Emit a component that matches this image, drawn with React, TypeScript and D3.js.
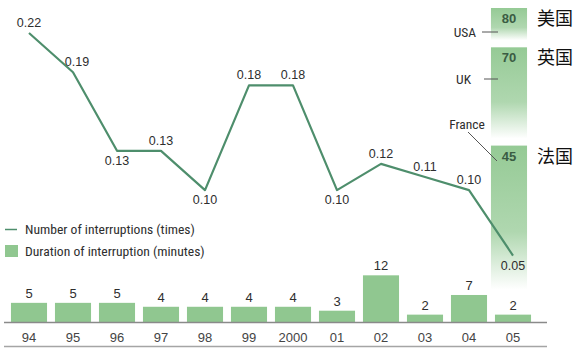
import React from "react";
import * as d3 from "d3";

const years = ["94", "95", "96", "97", "98", "99", "2000", "01", "02", "03", "04", "05"];
const interruptions = [0.22, 0.19, 0.13, 0.13, 0.1, 0.18, 0.18, 0.1, 0.12, 0.11, 0.1, 0.05];
const durations = [5, 5, 5, 4, 4, 4, 4, 3, 12, 2, 7, 2];
const countries = ["USA", "UK", "France"];
const countryNames = ["美国", "英国", "法国"];
const countryMinutes = [80, 70, 45];
const legendLabels = ["Number of interruptions (times)", "Duration of interruption (minutes)"];

const W = 580;
const H = 352;
const narrow = "'Roboto Condensed', 'DejaVu Sans Condensed', sans-serif";
const sans = "'Liberation Sans', Arial, sans-serif";
const lineColor = "#4e8e6c";
const barColor = "#90c790";
const compColor = "#95ca95";
const textColor = "#2e2e2e";

const App = () => {
  const x = d3.scaleBand<string>().domain(years).range([7, 535]).paddingInner(0.18).paddingOuter(0.09);
  const cx = (y: string) => (x(y) as number) + x.bandwidth() / 2;
  const yMin = d3.scaleLinear().domain([0, 80]).range([322.5, 8]);
  const yRate = d3.scaleLinear().domain([0, 0.22]).range([321, 33]);

  const line = d3
    .line<number>()
    .x((_, i) => cx(years[i]))
    .y((d) => yRate(d));

  // comparison bars sit over the last column
  const compX = (x("05") as number) - 4;
  const compW = x.bandwidth();
  const fadeEnds = countryMinutes.map((m, i) =>
    i < countryMinutes.length - 1 ? yMin(countryMinutes[i + 1]) - 7 : yMin(0) - 33
  );

  const labelBelow = (i: number) => {
    const v = interruptions[i];
    const prev = i > 0 ? interruptions[i - 1] : Infinity;
    const next = i < interruptions.length - 1 ? interruptions[i + 1] : Infinity;
    return v <= prev && v <= next && i > 0;
  };

  return (
    <svg width={W} height={H} style={{ position: "absolute", left: 0, top: 0, background: "#fff" }}>
      <defs>
        {countries.map((c, i) => (
          <linearGradient key={c} id={`fade${i}`} x1="0" y1="0" x2="0" y2="1">
            <stop offset="0" stopColor={compColor} stopOpacity={1} />
            <stop offset="0.6" stopColor={compColor} stopOpacity={0.75} />
            <stop offset="1" stopColor={compColor} stopOpacity={0} />
          </linearGradient>
        ))}
      </defs>

      {/* international comparison */}
      {countries.map((c, i) => {
        const top = yMin(countryMinutes[i]);
        return (
          <g key={c}>
            <rect x={compX} y={top} width={compW} height={fadeEnds[i] - top} fill={`url(#fade${i})`} />
            <text x={compX + compW / 2} y={top + 15} textAnchor="middle" fontFamily={sans} fontWeight="bold" fontSize={13} fill="#3a5c43">
              {countryMinutes[i]}
            </text>
            <text x={compX + compW + 10} y={top + 17} fontFamily="'Noto Sans CJK SC', sans-serif" fontSize={18} fill="#111">
              {countryNames[i]}
            </text>
          </g>
        );
      })}
      <text x={476} y={37} textAnchor="end" fontFamily={narrow} fontSize={13.5} fill={textColor}>{countries[0]}</text>
      <line x1={482} x2={498} y1={32} y2={32} stroke="#555" />
      <text x={471} y={84} textAnchor="end" fontFamily={narrow} fontSize={13.5} fill={textColor}>{countries[1]}</text>
      <line x1={484} x2={498} y1={79} y2={79} stroke="#555" />
      <text x={467} y={129} textAnchor="middle" fontFamily={narrow} fontSize={13.5} fill={textColor}>{countries[2]}</text>
      <line x1={468} x2={497} y1={132} y2={161} stroke="#555" />

      {/* duration bars */}
      {durations.map((d, i) => (
        <g key={years[i]}>
          <rect x={x(years[i])} y={yMin(d)} width={x.bandwidth()} height={yMin(0) - yMin(d)} fill={barColor} />
          <text x={cx(years[i])} y={yMin(d) - 5} textAnchor="middle" fontFamily={sans} fontSize={13} fill={textColor}>
            {d}
          </text>
          <text x={cx(years[i])} y={342} textAnchor="middle" fontFamily={sans} fontSize={13} fill="#444">
            {years[i]}
          </text>
        </g>
      ))}
      <line x1={4} x2={547} y1={yMin(0)} y2={yMin(0)} stroke="#8a8a8a" strokeWidth={1.5} />
      <line x1={4} x2={547} y1={346.5} y2={346.5} stroke="#a5a5a5" strokeWidth={1.5} />

      {/* interruptions line */}
      <path d={line(interruptions) as string} fill="none" stroke={lineColor} strokeWidth={2.2} strokeLinejoin="round" />
      {interruptions.map((v, i) => (
        <text
          key={years[i]}
          x={cx(years[i]) + (i === 1 ? 4 : 0)}
          y={labelBelow(i) ? yRate(v) + 14 : yRate(v) - 6}
          textAnchor="middle"
          fontFamily={sans}
          fontSize={12.5}
          fill={textColor}
        >
          {v.toFixed(2)}
        </text>
      ))}

      {/* legend */}
      <line x1={5} x2={17} y1={229.5} y2={229.5} stroke={lineColor} strokeWidth={1.5} />
      <text x={25} y={234} fontFamily={narrow} fontSize={13.6} fill={textColor}>{legendLabels[0]}</text>
      <rect x={5} y={245} width={13} height={12} fill={barColor} />
      <text x={25} y={256} fontFamily={narrow} fontSize={13.6} fill={textColor}>{legendLabels[1]}</text>
    </svg>
  );
};

export default App;
